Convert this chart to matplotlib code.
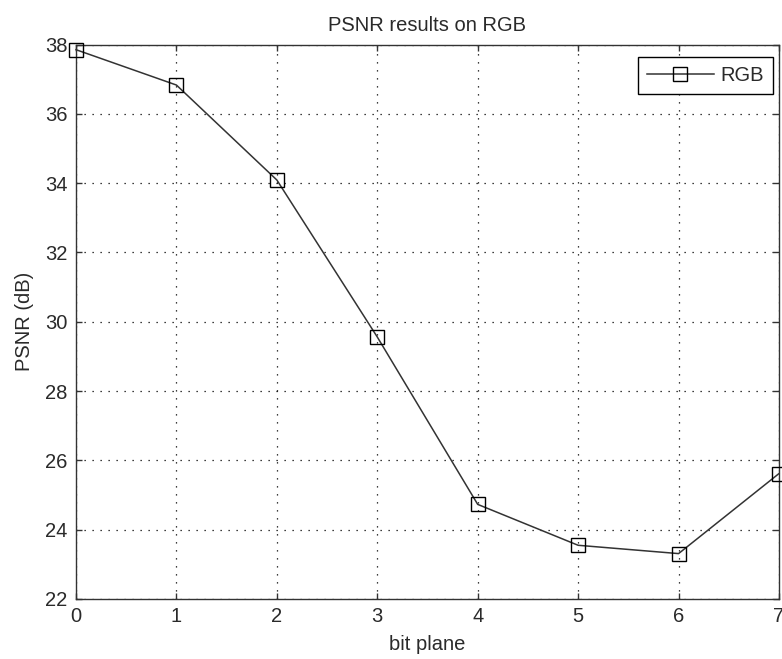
import numpy as np
import matplotlib
matplotlib.use("Agg")
import matplotlib.pyplot as plt

# values
bit_plane = [0, 1, 2, 3, 4, 5, 6, 7]
psnr_rgb = [37.85, 36.83, 34.09, 29.56, 24.73, 23.55, 23.31, 25.62]
x_ticks = [0, 1, 2, 3, 4, 5, 6, 7]
y_ticks = [22, 24, 26, 28, 30, 32, 34, 36, 38]

plt.rcParams['font.family'] = ['Liberation Sans', 'DejaVu Sans']
txt_color = '#2a2a2a'
fs = 14.5

fig = plt.figure(figsize=(7.82, 6.59), dpi=100)
W, H = 782, 659
left, right, top, bottom = 76, 779, 44.5, 599
ax = fig.add_axes([left / W, 1 - bottom / H, (right - left) / W, (bottom - top) / H])

ax.plot(bit_plane, psnr_rgb, color='#333333', linewidth=1.1, marker='s',
        markersize=9.8, markerfacecolor='none', markeredgecolor='black',
        markeredgewidth=1.0, label='RGB', clip_on=False, zorder=3)

ax.set_xlim(0, 7)
ax.set_ylim(22, 38)
ax.set_xticks(x_ticks)
ax.set_yticks(y_ticks)
ax.grid(True, color='black', linestyle=(0, (1, 5.4)), linewidth=0.9)

ax.tick_params(direction='in', length=4.3, width=1.0, colors='#333333',
               labelcolor=txt_color, labelsize=fs, top=True, right=True, pad=6)
for sp in ax.spines.values():
    sp.set_color('#333333')
    sp.set_linewidth(1.0)

ax.set_title('PSNR results on RGB', fontsize=fs, color=txt_color, pad=10)
ax.set_xlabel('bit plane', fontsize=fs, color=txt_color, labelpad=6)
ax.set_ylabel('PSNR (dB)', fontsize=fs, color=txt_color, labelpad=8)

leg = ax.legend(loc='upper right', bbox_to_anchor=(0.9919, 0.9769), borderaxespad=0,
                fontsize=fs, fancybox=False, shadow=False, framealpha=1,
                edgecolor='black', handlelength=3.3, handletextpad=0.35,
                borderpad=0.45)
leg.get_frame().set_linewidth(1.0)
for t in leg.get_texts():
    t.set_color(txt_color)

fig.savefig('out.png', dpi=100)
